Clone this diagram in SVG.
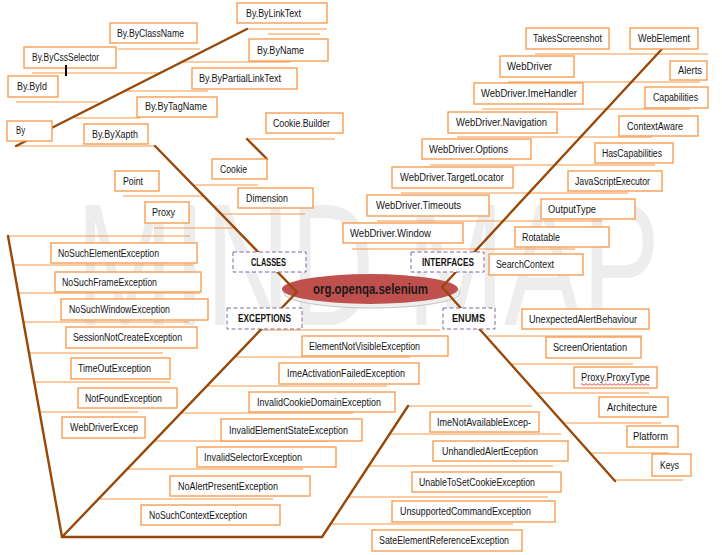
<svg xmlns="http://www.w3.org/2000/svg" width="722" height="555" viewBox="0 0 722 555">
<style>
.box{fill:#fff;stroke:#F79646;stroke-width:1.3}
.cat{fill:#fff;stroke:#8064A2;stroke-width:1;stroke-dasharray:4 2.5}
.ln{stroke:#F79646;stroke-width:1;fill:none}
.br{stroke:#984807;stroke-width:2.4;fill:none;stroke-linecap:round;stroke-linejoin:round}
text{font-family:"Liberation Sans",Arial,sans-serif;font-size:10px;fill:#141414}
.b{font-weight:bold}
.wm{font-size:175px;fill:#EDEDED}
.title{font-size:14px;font-weight:bold;fill:#1a1a1a}
</style>
<rect width="722" height="555" fill="#fff"/>
<text class="wm" x="76" y="325" textLength="584" lengthAdjust="spacingAndGlyphs">MIND MAP</text>

<g id="center">
<ellipse cx="372" cy="293" rx="88" ry="15" fill="#EEEEEE" stroke="#C4C4C4" stroke-width="1"/>
<ellipse cx="370" cy="289" rx="88" ry="15" fill="#C0504D"/>
<text class="title" x="313" y="294" textLength="115" lengthAdjust="spacingAndGlyphs">org.openqa.selenium</text>
</g>

<g id="connectors">
<!-- classes underlines -->
<path class="ln" d="M247 29H327M268 34H320M118 49H200M182 62H290M32 73H160M125 91H208M16 102H98M75 118H140M16 146H155M247 139H335M194 185H258M123 196H203M222 214H305M154 228H233"/>
<!-- exceptions underlines -->
<path class="ln" d="M8 236H190M13 265H193M18 293H200M23 322H189M29 353H163M35 382H170M41 412H138"/>
<path class="ln" d="M260 330H440M235 357H410M207 386H387M182 413H353M155 441H328M128 469H303M100 499H273"/>
<path class="ln" d="M408 406H532M390 434H561M369 466H553M348 497H548M330 524H513"/>
<!-- interfaces underlines -->
<path class="ln" d="M535 54H708M508 82H700M482 109H690M457 137H652M430 165H655M401 193H628M377 221H602M352 249H575"/>
<!-- enums underlines -->
<path class="ln" d="M488 336H642M512 364H633M537 393H649M564 423H661M590 453H669M615 480H683"/>
<!-- main branches -->
<path class="br" d="M16 146L247 29"/>
<path class="br" d="M155 146L297 292L62 537L322 537L408 406"/>
<path class="br" d="M8 236L62 537"/>
<path class="br" d="M247 139L267 159"/>
<path class="br" d="M662 49L442 287L615 481"/>
</g>

<g id="cat-classes"><rect class="cat" x="233" y="252" width="73" height="20"/><text class="b" x="251" y="265.5" textLength="35" lengthAdjust="spacingAndGlyphs">CLASSES</text></g>
<g id="cat-interfaces"><rect class="cat" x="411" y="252" width="73" height="20"/><text class="b" x="422" y="265.5" textLength="52" lengthAdjust="spacingAndGlyphs">INTERFACES</text></g>
<g id="cat-exceptions"><rect class="cat" x="227" y="308" width="75" height="21"/><text class="b" x="238" y="322" textLength="53" lengthAdjust="spacingAndGlyphs">EXCEPTIONS</text></g>
<g id="cat-enums"><rect class="cat" x="443" y="308" width="52" height="21"/><text class="b" x="452" y="322" textLength="33" lengthAdjust="spacingAndGlyphs">ENUMS</text></g>

<g id="n-bylinktext"><rect class="box" x="237" y="3" width="90" height="20"/><text x="246" y="16.5" textLength="55" lengthAdjust="spacingAndGlyphs">By.ByLinkText</text></g>
<g id="n-byclassname"><rect class="box" x="110" y="23" width="87" height="20"/><text x="117" y="36.5" textLength="67" lengthAdjust="spacingAndGlyphs">By.ByClassName</text></g>
<g id="n-bycssselector"><rect class="box" x="24" y="47" width="92" height="21"/><text x="32" y="61" textLength="67" lengthAdjust="spacingAndGlyphs">By.ByCssSelector</text><rect x="65" y="65" width="2" height="11" fill="#000"/></g>
<g id="n-byname"><rect class="box" x="249" y="39" width="79" height="22"/><text x="257" y="53.5" textLength="47" lengthAdjust="spacingAndGlyphs">By.ByName</text></g>
<g id="n-bypartiallinktext"><rect class="box" x="192" y="68" width="105" height="21"/><text x="199" y="82" textLength="82" lengthAdjust="spacingAndGlyphs">By.ByPartialLinkText</text></g>
<g id="n-byid"><rect class="box" x="8" y="76" width="50" height="21"/><text x="17" y="89.5" textLength="30" lengthAdjust="spacingAndGlyphs">By.ById</text></g>
<g id="n-bytagname"><rect class="box" x="137" y="97" width="80" height="20"/><text x="145" y="110" textLength="62" lengthAdjust="spacingAndGlyphs">By.ByTagName</text></g>
<g id="n-by"><rect class="box" x="7" y="121" width="45" height="20"/><text x="16" y="134" textLength="9" lengthAdjust="spacingAndGlyphs">By</text></g>
<g id="n-byxapth"><rect class="box" x="84" y="124" width="64" height="20"/><text x="92" y="137.5" textLength="46" lengthAdjust="spacingAndGlyphs">By.ByXapth</text></g>
<g id="n-cookiebuilder"><rect class="box" x="266" y="113" width="77" height="20"/><text x="273" y="126.5" textLength="57" lengthAdjust="spacingAndGlyphs">Cookie.Builder</text></g>
<g id="n-cookie"><rect class="box" x="212" y="159" width="55" height="20"/><text x="220" y="172.5" textLength="27" lengthAdjust="spacingAndGlyphs">Cookie</text></g>
<g id="n-point"><rect class="box" x="115" y="171" width="44" height="20"/><text x="123" y="184.5" textLength="20" lengthAdjust="spacingAndGlyphs">Point</text></g>
<g id="n-dimension"><rect class="box" x="238" y="188" width="75" height="20"/><text x="246" y="201.5" textLength="42" lengthAdjust="spacingAndGlyphs">Dimension</text></g>
<g id="n-proxy"><rect class="box" x="145" y="202" width="44" height="21"/><text x="152" y="216" textLength="23" lengthAdjust="spacingAndGlyphs">Proxy</text></g>

<g id="n-nosuchelement"><rect class="box" x="51" y="243" width="146" height="20"/><text x="58" y="256.5" textLength="101" lengthAdjust="spacingAndGlyphs">NoSuchElementException</text></g>
<g id="n-nosuchframe"><rect class="box" x="55" y="272" width="146" height="20"/><text x="62" y="285.5" textLength="95" lengthAdjust="spacingAndGlyphs">NoSuchFrameException</text></g>
<g id="n-nosuchwindow"><rect class="box" x="61" y="299" width="147" height="21"/><text x="69" y="313" textLength="101" lengthAdjust="spacingAndGlyphs">NoSuchWindowException</text></g>
<g id="n-sessionnotcreate"><rect class="box" x="66" y="327" width="131" height="21"/><text x="73" y="341" textLength="109" lengthAdjust="spacingAndGlyphs">SessionNotCreateException</text></g>
<g id="n-timeout"><rect class="box" x="71" y="358" width="99" height="21"/><text x="78" y="372" textLength="73" lengthAdjust="spacingAndGlyphs">TimeOutException</text></g>
<g id="n-notfound"><rect class="box" x="78" y="388" width="99" height="20"/><text x="85" y="401.5" textLength="77" lengthAdjust="spacingAndGlyphs">NotFoundException</text></g>
<g id="n-webdriverexcep"><rect class="box" x="62" y="417" width="83" height="21"/><text x="70" y="431" textLength="68" lengthAdjust="spacingAndGlyphs">WebDriverExcep</text></g>

<g id="n-elementnotvisible"><rect class="box" x="302" y="336" width="146" height="20"/><text x="309" y="349.5" textLength="111" lengthAdjust="spacingAndGlyphs">ElementNotVisibleException</text></g>
<g id="n-imeactivation"><rect class="box" x="279" y="363" width="140" height="21"/><text x="287" y="377" textLength="118" lengthAdjust="spacingAndGlyphs">ImeActivationFailedException</text></g>
<g id="n-invalidcookie"><rect class="box" x="249" y="392" width="146" height="20"/><text x="257" y="405.5" textLength="124" lengthAdjust="spacingAndGlyphs">InvalidCookieDomainException</text></g>
<g id="n-invalidelementstate"><rect class="box" x="221" y="419" width="141" height="22"/><text x="229" y="433.5" textLength="119" lengthAdjust="spacingAndGlyphs">InvalidElementStateException</text></g>
<g id="n-invalidselector"><rect class="box" x="197" y="447" width="139" height="20"/><text x="204" y="460.5" textLength="98" lengthAdjust="spacingAndGlyphs">InvalidSelectorException</text></g>
<g id="n-noalertpresent"><rect class="box" x="170" y="476" width="140" height="20"/><text x="178" y="489.5" textLength="100" lengthAdjust="spacingAndGlyphs">NoAlertPresentException</text></g>
<g id="n-nosuchcontext"><rect class="box" x="141" y="505" width="139" height="20"/><text x="149" y="518.5" textLength="98" lengthAdjust="spacingAndGlyphs">NoSuchContextException</text></g>

<g id="n-imenotavailable"><rect class="box" x="430" y="412" width="109" height="20"/><text x="437" y="425.5" textLength="94" lengthAdjust="spacingAndGlyphs">ImeNotAvailableExcep-</text></g>
<g id="n-unhandledalert"><rect class="box" x="433" y="441" width="135" height="20"/><text x="442" y="454.5" textLength="96" lengthAdjust="spacingAndGlyphs">UnhandledAlertEception</text></g>
<g id="n-unabletosetcookie"><rect class="box" x="412" y="472" width="149" height="20"/><text x="419" y="485.5" textLength="116" lengthAdjust="spacingAndGlyphs">UnableToSetCookieException</text></g>
<g id="n-unsupportedcommand"><rect class="box" x="392" y="501" width="163" height="21"/><text x="400" y="515" textLength="131" lengthAdjust="spacingAndGlyphs">UnsupportedCommandException</text></g>
<g id="n-sateelementreference"><rect class="box" x="372" y="530" width="150" height="21"/><text x="379" y="544" textLength="130" lengthAdjust="spacingAndGlyphs">SateElementReferenceException</text></g>

<g id="n-takesscreenshot"><rect class="box" x="526" y="28" width="83" height="21"/><text x="533" y="42" textLength="69" lengthAdjust="spacingAndGlyphs">TakesScreenshot</text></g>
<g id="n-webelement"><rect class="box" x="630" y="28" width="68" height="21"/><text x="638" y="42" textLength="52" lengthAdjust="spacingAndGlyphs">WebElement</text></g>
<g id="n-webdriver"><rect class="box" x="500" y="56" width="74" height="21"/><text x="507" y="70" textLength="45" lengthAdjust="spacingAndGlyphs">WebDriver</text></g>
<g id="n-alerts"><rect class="box" x="670" y="61" width="37" height="19"/><text x="678" y="74" textLength="24" lengthAdjust="spacingAndGlyphs">Alerts</text></g>
<g id="n-imehandler"><rect class="box" x="474" y="83" width="109" height="21"/><text x="481" y="97" textLength="96" lengthAdjust="spacingAndGlyphs">WebDriver.ImeHandler</text></g>
<g id="n-capabilities"><rect class="box" x="645" y="87" width="63" height="21"/><text x="653" y="101" textLength="45" lengthAdjust="spacingAndGlyphs">Capabilities</text></g>
<g id="n-navigation"><rect class="box" x="448" y="112" width="109" height="21"/><text x="456" y="126" textLength="91" lengthAdjust="spacingAndGlyphs">WebDriver.Navigation</text></g>
<g id="n-contextaware"><rect class="box" x="619" y="116" width="79" height="20"/><text x="627" y="129.5" textLength="56" lengthAdjust="spacingAndGlyphs">ContextAware</text></g>
<g id="n-options"><rect class="box" x="422" y="139" width="109" height="20"/><text x="429" y="152.5" textLength="79" lengthAdjust="spacingAndGlyphs">WebDriver.Options</text></g>
<g id="n-hascapabilities"><rect class="box" x="595" y="143" width="78" height="20"/><text x="602" y="156.5" textLength="60" lengthAdjust="spacingAndGlyphs">HasCapabilities</text></g>
<g id="n-targetlocator"><rect class="box" x="392" y="167" width="121" height="21"/><text x="400" y="181" textLength="104" lengthAdjust="spacingAndGlyphs">WebDriver.TargetLocator</text></g>
<g id="n-javascriptexecutor"><rect class="box" x="568" y="171" width="94" height="20"/><text x="575" y="184.5" textLength="75" lengthAdjust="spacingAndGlyphs">JavaScriptExecutor</text></g>
<g id="n-timeouts"><rect class="box" x="367" y="195" width="122" height="21"/><text x="376" y="209" textLength="85" lengthAdjust="spacingAndGlyphs">WebDriver.Timeouts</text></g>
<g id="n-outputtype"><rect class="box" x="541" y="199" width="94" height="20"/><text x="548" y="212.5" textLength="48" lengthAdjust="spacingAndGlyphs">OutputType</text></g>
<g id="n-window"><rect class="box" x="343" y="223" width="120" height="20"/><text x="350" y="236.5" textLength="81" lengthAdjust="spacingAndGlyphs">WebDriver.Window</text></g>
<g id="n-rotatable"><rect class="box" x="515" y="227" width="94" height="20"/><text x="522" y="240.5" textLength="38" lengthAdjust="spacingAndGlyphs">Rotatable</text></g>
<g id="n-searchcontext"><rect class="box" x="489" y="254" width="94" height="21"/><text x="496" y="268" textLength="58" lengthAdjust="spacingAndGlyphs">SearchContext</text></g>

<g id="n-unexpectedalert"><rect class="box" x="522" y="309" width="127" height="20"/><text x="529" y="322.5" textLength="108" lengthAdjust="spacingAndGlyphs">UnexpectedAlertBehaviour</text></g>
<g id="n-screenorientation"><rect class="box" x="546" y="337" width="95" height="21"/><text x="553" y="351" textLength="74" lengthAdjust="spacingAndGlyphs">ScreenOrientation</text></g>
<g id="n-proxytype"><rect class="box" x="574" y="367" width="83" height="21"/><text x="581" y="381" textLength="69" lengthAdjust="spacingAndGlyphs">Proxy.ProxyType</text><path d="M581 384.5q1 -1.6 2 0t2 0t2 0t2 0t2 0t2 0t2 0t2 0t2 0t2 0t2 0t2 0t2 0t2 0t2 0t2 0t2 0t2 0t2 0t2 0t2 0t2 0t2 0t2 0t2 0t2 0t2 0t2 0t2 0t2 0t2 0t2 0t2 0t2 0" fill="none" stroke="#E02020" stroke-width="0.8"/></g>
<g id="n-architecture"><rect class="box" x="599" y="397" width="69" height="20"/><text x="607" y="410.5" textLength="50" lengthAdjust="spacingAndGlyphs">Architecture</text></g>
<g id="n-platform"><rect class="box" x="627" y="426" width="51" height="21"/><text x="633" y="440" textLength="35" lengthAdjust="spacingAndGlyphs">Platform</text></g>
<g id="n-keys"><rect class="box" x="652" y="454" width="39" height="22"/><text x="660" y="468.5" textLength="19" lengthAdjust="spacingAndGlyphs">Keys</text></g>
</svg>
